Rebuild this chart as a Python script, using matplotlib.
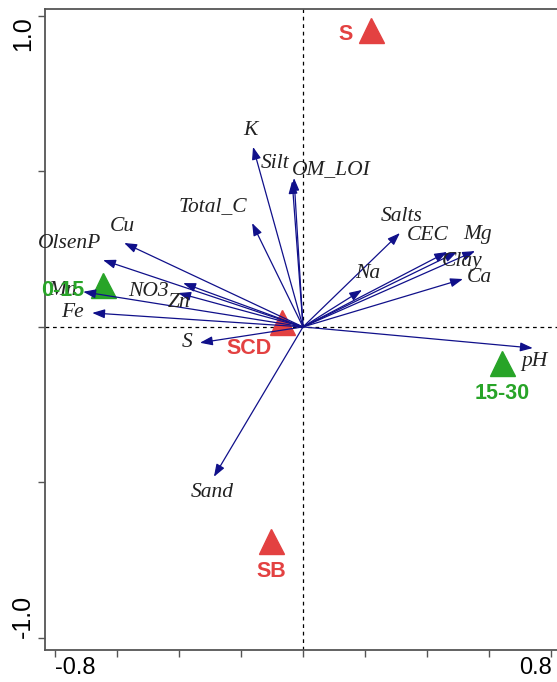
"""
Ordination biplot: soil variables as arrows, sites/depths as triangles.
"""
import matplotlib
matplotlib.use("Agg")
import matplotlib.pyplot as plt

# ── environmental variable scores (axis 1, axis 2) ───────────────────────────
VARS = ["K", "Silt", "OM_LOI", "Total_C", "Cu", "OlsenP", "NO3", "Zn", "Mn",
        "Fe", "S", "Sand", "Salts", "CEC", "Clay", "Mg", "Ca", "Na", "pH"]
AX1 = [-0.161, -0.035, -0.029, -0.164, -0.576, -0.644, -0.386, -0.402, -0.708,
       -0.679, -0.332, -0.287, 0.312, 0.464, 0.496, 0.554, 0.515, 0.190, 0.740]
AX2 = [0.579, 0.469, 0.479, 0.334, 0.270, 0.215, 0.141, 0.109, 0.113,
       0.045, -0.051, -0.482, 0.302, 0.241, 0.241, 0.244, 0.154, 0.119, -0.068]

# ── sample / treatment centroids ─────────────────────────────────────────────
SAMPLES = ["S", "0-15", "SCD", "SB", "15-30"]
S_AX1 = [0.219, -0.644, -0.068, -0.103, 0.641]
S_AX2 = [0.955, 0.135, 0.016, -0.688, -0.116]
S_GROUP = ["site", "depth", "site", "site", "depth"]

RED = "#e34141"
GREEN = "#28a428"
NAVY = "#10108a"
GROUP_COLOR = {"site": RED, "depth": GREEN}

# label offsets in points from the arrow tip / marker
VAR_OFF = {
    "K": (-2, 12), "Silt": (-12, 13), "OM_LOI": (27, 6), "Total_C": (-28, 12),
    "Cu": (-1, 12), "OlsenP": (-24, 12), "NO3": (-25, -6), "Zn": (1, -7),
    "Mn": (-15, 1), "Fe": (-14, 0), "S": (-9, 0), "Sand": (-1, -11),
    "Salts": (1, 12), "CEC": (-14, 12), "Clay": (4, -7), "Mg": (2, 12),
    "Ca": (12, 1), "Na": (4, 12), "pH": (1, -10),
}
SAMPLE_OFF = {
    "S": (-18, -3), "0-15": (-29, -4), "SCD": (-24, -19),
    "SB": (0, -22), "15-30": (0, -22),
}

fig = plt.figure(figsize=(5.57, 6.82), dpi=100)
ax = fig.add_axes([0.0808, 0.047, 0.9192, 0.94])
ax.set_xlim(-0.831, 0.818)
ax.set_ylim(-1.039, 1.023)

ax.axhline(0, color="black", lw=0.9, ls=(0, (3, 3)), zorder=1)
ax.axvline(0, color="black", lw=0.9, ls=(0, (3, 3)), zorder=1)

for name, x, y in zip(SAMPLES, S_AX1, S_AX2):
    grp = S_GROUP[SAMPLES.index(name)]
    c = GROUP_COLOR[grp]
    ax.plot(x, y, marker="^", ms=18, color=c, mec=c, ls="none", zorder=2)
    ax.annotate(name, (x, y), xytext=SAMPLE_OFF[name], textcoords="offset points",
                ha="center", va="center", color=c, fontsize=15.5,
                fontweight="bold", family="Liberation Sans", zorder=5)

for name, x, y in zip(VARS, AX1, AX2):
    ax.annotate("", xy=(x, y), xytext=(0, 0),
                arrowprops=dict(arrowstyle="-|>,head_length=0.75,head_width=0.27",
                                color=NAVY, lw=0.9, shrinkA=0, shrinkB=0),
                zorder=3)
    ax.annotate(name, (x, y), xytext=VAR_OFF[name], textcoords="offset points",
                ha="center", va="center", fontsize=15.5, style="italic",
                family="Liberation Serif", color="#222222", zorder=4)

for side in ["left", "bottom", "top"]:
    ax.spines[side].set_color("#555555")
    ax.spines[side].set_linewidth(1.3)
ax.spines["right"].set_visible(False)

ax.set_xticks([-0.8, -0.6, -0.4, -0.2, 0, 0.2, 0.4, 0.6, 0.8])
ax.set_xticklabels(["-0.8", "", "", "", "", "", "", "", "0.8"])
ax.set_yticks([-1.0, -0.5, 0, 0.5, 1.0])
ax.set_yticklabels(["-1.0", "", "", "", "1.0"], rotation=90)
ax.tick_params(direction="out", length=5, width=1, color="#555555",
               labelsize=18, pad=2)
ax.tick_params(axis="x", labelsize=17, pad=0)
for lbl in ax.get_xticklabels() + ax.get_yticklabels():
    lbl.set_family("Liberation Sans")

# end labels sit inward of their ticks
xl = ax.get_xticklabels()
xl[0].set_ha("left")
xl[-1].set_ha("right")
yl = ax.get_yticklabels()
yl[0].set_va("bottom")
yl[-1].set_va("top")

fig.savefig("out.png", dpi=100)
